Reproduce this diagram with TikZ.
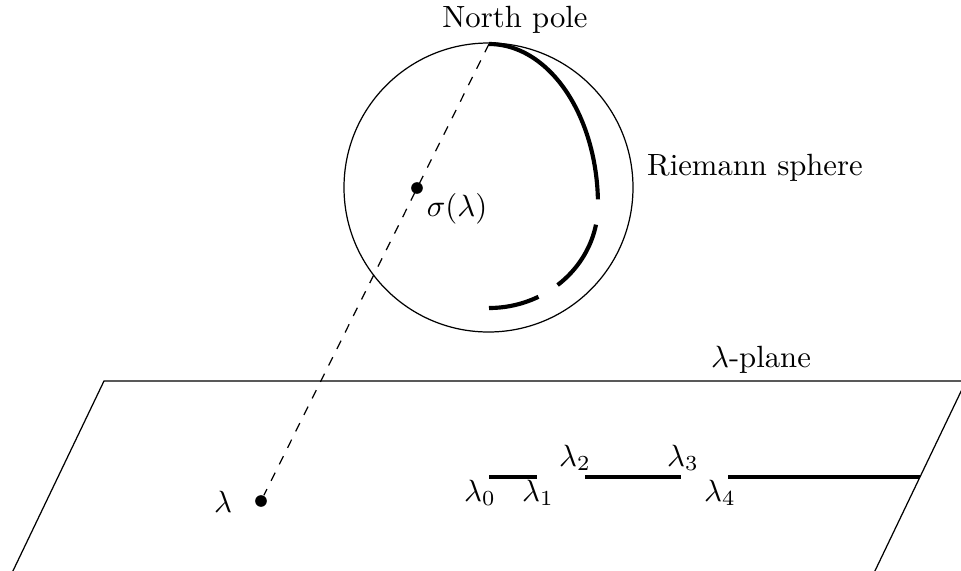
\documentclass[tikz,border=0pt]{standalone}
\begin{document}
\begin{tikzpicture}[x=0.3257pt,y=-0.3257pt,
  thin line/.style={line width=0.4pt},
  thickseg/.style={line width=1.35pt},
  dotnode/.style={circle,fill=black,inner sep=0pt,minimum size=3.8pt},
  lbl/.style={inner sep=0pt}]
\useasboundingbox (0,0) rectangle (961,571);
\clip (0,0) rectangle (961,571);
% plane
\coordinate (pbl) at (11,575);
\coordinate (ptl) at (104,381);
\coordinate (ptr) at (966,381);
\coordinate (pbr) at (873,575);
\draw[thin line] (pbl) -- (ptl) -- (ptr) -- (pbr);
\node[lbl] (plane) at (761,360) {$\lambda$-plane};
% sphere
\coordinate (center) at (488.5,187.5);
\draw[thin line] (center) circle[radius=144.5];
\coordinate (np) at (489,44);
\node[lbl] (nptext) at (515,20) {North pole};
\node[lbl] (rs) at (755,168) {Riemann sphere};
% dashed projection line
\node[dotnode] (lam) at (261,501) {};
\node[dotnode] (sig) at (417,188) {};
\draw[thin line,dashed] (np) -- (lam);
\node[lbl] (sigtext) at (457,209) {$\sigma(\lambda)$};
\node[lbl] (lamtext) at (223,502) {$\lambda$};
% arcs on sphere (image of the real axis)
\draw[thickseg] plot[domain=-90:-2,smooth,samples=60] ({489+109*cos(\x)},{205+161*sin(\x)});
\draw[thickseg] plot[domain=11:51,smooth,samples=30] ({489+109*cos(\x)},{205+103*sin(\x)});
\draw[thickseg] plot[domain=63:90,smooth,samples=30] ({489+109*cos(\x)},{205+103*sin(\x)});
% segments on plane
\coordinate (a0) at (489,477);
\coordinate (a1) at (537,477);
\coordinate (a2) at (585,477);
\coordinate (a3) at (681,477);
\coordinate (a4) at (728,477);
\coordinate (a5) at (920,477);
\draw[thickseg] (a0) -- (a1);
\draw[thickseg] (a2) -- (a3);
\draw[thickseg] (a4) -- (a5);
\node[lbl] (l0) at (480,493) {$\lambda_0$};
\node[lbl] (l1) at (538,493) {$\lambda_1$};
\node[lbl] (l2) at (575,458) {$\lambda_2$};
\node[lbl] (l3) at (683,458) {$\lambda_3$};
\node[lbl] (l4) at (720,493) {$\lambda_4$};
\end{tikzpicture}
\end{document}
